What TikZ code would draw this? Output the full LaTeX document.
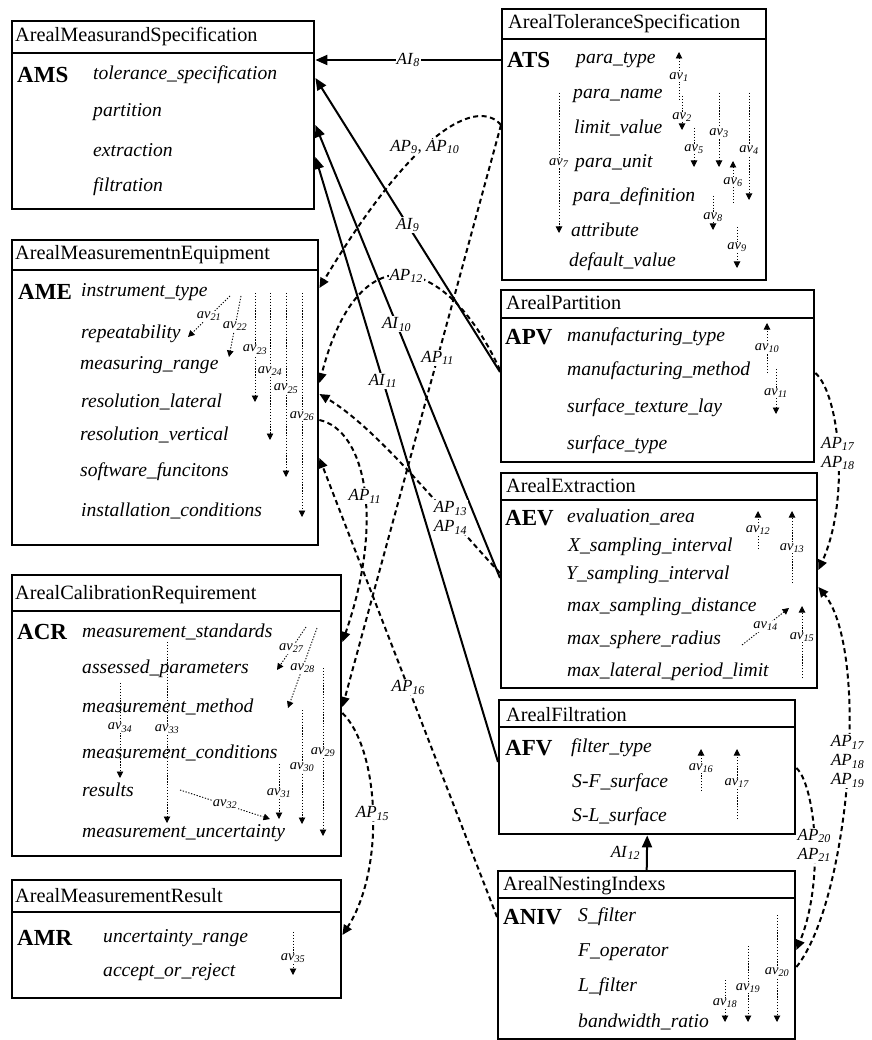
\documentclass[tikz,border=0pt]{standalone}
\usepackage{fontspec}
\setmainfont{Liberation Serif}
\usepackage{tikz}
\usetikzlibrary{arrows.meta,calc}

\newcommand{\avl}[1]{\textit{av}\textsubscript{\textit{#1}}}
\newcommand{\apl}[1]{\textit{AP}\textsubscript{\textit{#1}}}
\newcommand{\ail}[1]{\textit{AI}\textsubscript{\textit{#1}}}

\begin{document}
\begin{tikzpicture}[x=1pt, y=-1pt,
  box/.style={draw, line width=2.4pt, anchor=north west, inner sep=0pt},
  sep/.style={line width=2.4pt},
  ttl/.style={anchor=west, inner sep=0pt, font=\fontsize{20.3}{23}\selectfont},
  key/.style={anchor=west, inner sep=0pt, font=\fontsize{23}{26}\selectfont\bfseries},
  attr/.style={anchor=west, inner sep=0pt, font=\fontsize{19.6}{22}\selectfont\itshape},
  av/.style={line width=0.9pt, dash pattern=on 1.3pt off 1.6pt, -{Triangle[length=6.5pt,width=6.5pt]}},
  avlab/.style={fill=white, inner sep=0.6pt, font=\fontsize{14.5}{16}\selectfont},
  ai/.style={line width=2pt, -{Triangle[length=12pt,width=10pt]}},
  ap/.style={line width=2pt, dash pattern=on 5pt off 3.5pt, -{Triangle[length=10pt,width=9pt]}},
  lab/.style={fill=white, inner sep=1pt, align=center, font=\fontsize{17}{19}\selectfont}]
  \useasboundingbox (0,0) rectangle (871,1040);

  % classes
  \node[box, minimum width=302pt, minimum height=188pt] (ams) at (11,20) {};
  \draw[sep] ($(ams.north west)+(0,33)$) -- ($(ams.north east)+(0,33)$);
  \node[ttl] (ams-t) at (15,37) {ArealMeasurandSpecification};
  \node[key] (ams-k) at (17,75) {AMS};
  \node[attr] (ams1) at (93,75) {tolerance\_specification};
  \node[attr] (ams2) at (93,112) {partition};
  \node[attr] (ams3) at (93,150) {extraction};
  \node[attr] (ams4) at (93,187) {filtration};

  \node[box, minimum width=264pt, minimum height=271pt] (ats) at (501,8) {};
  \draw[sep] ($(ats.north west)+(0,31)$) -- ($(ats.north east)+(0,31)$);
  \node[ttl] (ats-t) at (508,24) {ArealToleranceSpecification};
  \node[key] (ats-k) at (507,60) {ATS};
  \node[attr] (ats1) at (576,60) {para\_type};
  \node[attr] (ats2) at (573,96) {para\_name};
  \node[attr] (ats3) at (574,128) {limit\_value};
  \node[attr] (ats4) at (575,163) {para\_unit};
  \node[attr] (ats5) at (573,197) {para\_definition};
  \node[attr] (ats6) at (571,230) {attribute};
  \node[attr] (ats7) at (569,262) {default\_value};

  \node[box, minimum width=306pt, minimum height=305pt] (ame) at (11,239) {};
  \draw[sep] ($(ame.north west)+(0,31)$) -- ($(ame.north east)+(0,31)$);
  \node[ttl] (ame-t) at (15,255) {ArealMeasurementnEquipment};
  \node[key] (ame-k) at (18,292) {AME};
  \node[attr] (ame1) at (81,292) {instrument\_type};
  \node[attr] (ame2) at (81,334) {repeatability};
  \node[attr] (ame3) at (80,365) {measuring\_range};
  \node[attr] (ame4) at (81,402) {resolution\_lateral};
  \node[attr] (ame5) at (80,435) {resolution\_vertical};
  \node[attr] (ame6) at (80,472) {software\_funcitons};
  \node[attr] (ame7) at (81,511) {installation\_conditions};

  \node[box, minimum width=313pt, minimum height=172pt] (apv) at (500,289) {};
  \draw[sep] ($(apv.north west)+(0,29)$) -- ($(apv.north east)+(0,29)$);
  \node[ttl] (apv-t) at (506,303) {ArealPartition};
  \node[key] (apv-k) at (505,337) {APV};
  \node[attr] (apv1) at (567,337) {manufacturing\_type};
  \node[attr] (apv2) at (567,371) {manufacturing\_method};
  \node[attr] (apv3) at (567,408) {surface\_texture\_lay};
  \node[attr] (apv4) at (567,445) {surface\_type};

  \node[box, minimum width=316pt, minimum height=215pt] (aev) at (500,472) {};
  \draw[sep] ($(aev.north west)+(0,28)$) -- ($(aev.north east)+(0,28)$);
  \node[ttl] (aev-t) at (506,486) {ArealExtraction};
  \node[key] (aev-k) at (505,518) {AEV};
  \node[attr] (aev1) at (567,517) {evaluation\_area};
  \node[attr] (aev2) at (568,547) {X\_sampling\_interval};
  \node[attr] (aev3) at (566,575) {Y\_sampling\_interval};
  \node[attr] (aev4) at (567,607) {max\_sampling\_distance};
  \node[attr] (aev5) at (567,640) {max\_sphere\_radius};
  \node[attr] (aev6) at (567,672) {max\_lateral\_period\_limit};

  \node[box, minimum width=329pt, minimum height=281pt] (acr) at (11,574) {};
  \draw[sep] ($(acr.north west)+(0,37)$) -- ($(acr.north east)+(0,37)$);
  \node[ttl] (acr-t) at (15,595) {ArealCalibrationRequirement};
  \node[key] (acr-k) at (17,632) {ACR};
  \node[attr] (acr1) at (82,632) {measurement\_standards};
  \node[attr] (acr2) at (82,669) {assessed\_parameters};
  \node[attr] (acr3) at (82,707) {measurement\_method};
  \node[attr] (acr4) at (82,753) {measurement\_conditions};
  \node[attr] (acr5) at (82,790) {results};
  \node[attr] (acr6) at (82,833) {measurement\_uncertainty};

  \node[box, minimum width=296pt, minimum height=134pt] (afv) at (498,699) {};
  \draw[sep] ($(afv.north west)+(0,28)$) -- ($(afv.north east)+(0,28)$);
  \node[ttl] (afv-t) at (506,715) {ArealFiltration};
  \node[key] (afv-k) at (505,748) {AFV};
  \node[attr] (afv1) at (571,748) {filter\_type};
  \node[attr] (afv2) at (572,783) {S-F\_surface};
  \node[attr] (afv3) at (572,817) {S-L\_surface};

  \node[box, minimum width=297pt, minimum height=168pt] (aniv) at (497,870) {};
  \draw[sep] ($(aniv.north west)+(0,28)$) -- ($(aniv.north east)+(0,28)$);
  \node[ttl] (aniv-t) at (503,886) {ArealNestingIndexs};
  \node[key] (aniv-k) at (503,917) {ANIV};
  \node[attr] (aniv1) at (578,917) {S\_filter};
  \node[attr] (aniv2) at (578,952) {F\_operator};
  \node[attr] (aniv3) at (578,987) {L\_filter};
  \node[attr] (aniv4) at (578,1022) {bandwidth\_ratio};

  \node[box, minimum width=329pt, minimum height=118pt] (amr) at (11,879) {};
  \draw[sep] ($(amr.north west)+(0,33)$) -- ($(amr.north east)+(0,33)$);
  \node[ttl] (amr-t) at (15,896) {ArealMeasurementResult};
  \node[key] (amr-k) at (17,938) {AMR};
  \node[attr] (amr1) at (103,938) {uncertainty\_range};
  \node[attr] (amr2) at (103,972) {accept\_or\_reject};

  % attribute links
  \coordinate (av1a) at (679,100); \coordinate (av1b) at (679,52);
  \draw[av] (av1a) -- node[avlab, pos=0.48]{\avl{1}} (av1b);
  \coordinate (av2a) at (682,96); \coordinate (av2b) at (682,130);
  \draw[av] (av2a) -- node[avlab, pos=0.62]{\avl{2}} (av2b);
  \coordinate (av3a) at (719,93); \coordinate (av3b) at (719,167);
  \draw[av] (av3a) -- node[avlab, pos=0.54]{\avl{3}} (av3b);
  \coordinate (av4a) at (749,93); \coordinate (av4b) at (749,200);
  \draw[av] (av4a) -- node[avlab, pos=0.53]{\avl{4}} (av4b);
  \coordinate (av5a) at (694,128); \coordinate (av5b) at (694,167);
  \draw[av] (av5a) -- node[avlab, pos=0.54]{\avl{5}} (av5b);
  \coordinate (av6a) at (733,203); \coordinate (av6b) at (733,161);
  \draw[av] (av6a) -- node[avlab, pos=0.5]{\avl{6}} (av6b);
  \coordinate (av7a) at (559,93); \coordinate (av7b) at (559,233);
  \draw[av] (av7a) -- node[avlab, pos=0.5]{\avl{7}} (av7b);
  \coordinate (av8a) at (713,196); \coordinate (av8b) at (713,230);
  \draw[av] (av8a) -- node[avlab, pos=0.62]{\avl{8}} (av8b);
  \coordinate (av9a) at (737,227); \coordinate (av9b) at (737,268);
  \draw[av] (av9a) -- node[avlab, pos=0.5]{\avl{9}} (av9b);
  \coordinate (av10a) at (767,373); \coordinate (av10b) at (767,323);
  \draw[av] (av10a) -- node[avlab, pos=0.5]{\avl{10}} (av10b);
  \coordinate (av11a) at (776,369); \coordinate (av11b) at (776,414);
  \draw[av] (av11a) -- node[avlab, pos=0.53]{\avl{11}} (av11b);
  \coordinate (av12a) at (758,549); \coordinate (av12b) at (758,511);
  \draw[av] (av12a) -- node[avlab, pos=0.5]{\avl{12}} (av12b);
  \coordinate (av13a) at (792,583); \coordinate (av13b) at (792,511);
  \draw[av] (av13a) -- node[avlab, pos=0.49]{\avl{13}} (av13b);
  \coordinate (av14a) at (742,645); \coordinate (av14b) at (789,608);
  \draw[av] (av14a) -- node[avlab, pos=0.5]{\avl{14}} (av14b);
  \coordinate (av15a) at (802,678); \coordinate (av15b) at (802,606);
  \draw[av] (av15a) -- node[avlab, pos=0.57]{\avl{15}} (av15b);
  \coordinate (av16a) at (701,791); \coordinate (av16b) at (701,749);
  \draw[av] (av16a) -- node[avlab, pos=0.55]{\avl{16}} (av16b);
  \coordinate (av17a) at (737,819); \coordinate (av17b) at (737,749);
  \draw[av] (av17a) -- node[avlab, pos=0.51]{\avl{17}} (av17b);
  \coordinate (av18a) at (725,980); \coordinate (av18b) at (725,1022);
  \draw[av] (av18a) -- node[avlab, pos=0.55]{\avl{18}} (av18b);
  \coordinate (av19a) at (748,946); \coordinate (av19b) at (748,1022);
  \draw[av] (av19a) -- node[avlab, pos=0.55]{\avl{19}} (av19b);
  \coordinate (av20a) at (777,915); \coordinate (av20b) at (777,1022);
  \draw[av] (av20a) -- node[avlab, pos=0.53]{\avl{20}} (av20b);
  \coordinate (av21a) at (230,296); \coordinate (av21b) at (188,337);
  \draw[av] (av21a) -- node[avlab, pos=0.5]{\avl{21}} (av21b);
  \coordinate (av22a) at (241,296); \coordinate (av22b) at (229,357);
  \draw[av] (av22a) -- node[avlab, pos=0.5]{\avl{22}} (av22b);
  \coordinate (av23a) at (255,293); \coordinate (av23b) at (255,402);
  \draw[av] (av23a) -- node[avlab, pos=0.52]{\avl{23}} (av23b);
  \coordinate (av24a) at (270,293); \coordinate (av24b) at (270,440);
  \draw[av] (av24a) -- node[avlab, pos=0.53]{\avl{24}} (av24b);
  \coordinate (av25a) at (286,293); \coordinate (av25b) at (286,477);
  \draw[av] (av25a) -- node[avlab, pos=0.52]{\avl{25}} (av25b);
  \coordinate (av26a) at (302,293); \coordinate (av26b) at (302,517);
  \draw[av] (av26a) -- node[avlab, pos=0.55]{\avl{26}} (av26b);
  \coordinate (av27a) at (306,627); \coordinate (av27b) at (277,670);
  \draw[av] (av27a) -- node[avlab, pos=0.5]{\avl{27}} (av27b);
  \coordinate (av28a) at (317,628); \coordinate (av28b) at (288,708);
  \draw[av] (av28a) -- node[avlab, pos=0.5]{\avl{28}} (av28b);
  \coordinate (av29a) at (323,668); \coordinate (av29b) at (323,836);
  \draw[av] (av29a) -- node[avlab, pos=0.5]{\avl{29}} (av29b);
  \coordinate (av30a) at (302,710); \coordinate (av30b) at (302,824);
  \draw[av] (av30a) -- node[avlab, pos=0.5]{\avl{30}} (av30b);
  \coordinate (av31a) at (279,764); \coordinate (av31b) at (279,819);
  \draw[av] (av31a) -- node[avlab, pos=0.53]{\avl{31}} (av31b);
  \coordinate (av32a) at (180,790); \coordinate (av32b) at (270,819);
  \draw[av] (av32a) -- node[avlab, pos=0.5]{\avl{32}} (av32b);
  \coordinate (av33a) at (167,642); \coordinate (av33b) at (167,823);
  \draw[av] (av33a) -- node[avlab, pos=0.48]{\avl{33}} (av33b);
  \coordinate (av34a) at (120,683); \coordinate (av34b) at (120,778);
  \draw[av] (av34a) -- node[avlab, pos=0.47]{\avl{34}} (av34b);
  \coordinate (av35a) at (293,932); \coordinate (av35b) at (293,975);
  \draw[av] (av35a) -- node[avlab, pos=0.6]{\avl{35}} (av35b);

  % class links
  \draw[ai] ($(ats.north west)+(0,52)$) -- node[lab]{\ail{8}} ($(ams.north east)+(0,40)$);
  \draw[ai] ($(apv.north west)+(0,83)$) -- node[lab]{\ail{9}} ($(ams.north east)+(0,58)$);
  \draw[ai] ($(aev.north west)+(0,106)$) -- node[lab, pos=0.56]{\ail{10}} ($(ams.north east)+(0,105)$);
  \draw[ai] ($(afv.north west)+(0,63)$) -- node[lab, pos=0.63]{\ail{11}} ($(ams.north east)+(0,137)$);
  \draw[ai] (aniv.north) -- node[lab, left=5pt, fill=none]{\ail{12}} (afv.south);

  \draw[ap] ($(ats.north west)+(0,117)$) .. controls (480,100) and (420,120) .. node[lab, pos=0.58]{\apl{9}, \apl{10}} ($(ame.north east)+(0,49)$);
  \draw[ap] ($(ats.north west)+(0,117)$) -- node[lab, pos=0.4]{\apl{11}} ($(acr.north east)+(0,133)$);
  \draw[ap] ($(apv.north west)+(0,81)$) .. controls (450,260) and (360,225) .. node[lab]{\apl{12}} ($(ame.north east)+(0,144)$);
  \draw[ap] ($(aev.north west)+(0,101)$) .. controls (450,520) and (380,430) .. node[lab, pos=0.3]{\apl{13}\\\apl{14}} ($(ame.north east)+(0,155)$);
  \draw[ap] ($(ame.north east)+(0,181)$) .. controls (365,430) and (385,520) .. node[lab, pos=0.53]{\apl{11}} ($(acr.north east)+(0,68)$);
  \draw[ap] ($(aniv.north west)+(0,47)$) -- node[lab]{\apl{16}} ($(ame.north east)+(0,219)$);
  \draw[ap] ($(acr.north east)+(0,139)$) .. controls (380,750) and (385,870) .. node[lab]{\apl{15}} ($(amr.north east)+(0,56)$);
  \draw[ap] ($(apv.north east)+(0,84)$) .. controls (840,395) and (850,500) .. node[lab]{\apl{17}\\\apl{18}} ($(aev.north east)+(0,98)$);
  \draw[ap] ($(aniv.north east)+(0,97)$) .. controls (850,900) and (870,650) .. node[lab, pos=0.53]{\apl{17}\\\apl{18}\\\apl{19}} ($(aev.north east)+(0,115)$);
  \draw[ap] ($(afv.north east)+(0,69)$) .. controls (815,785) and (825,880) .. node[lab, pos=0.53]{\apl{20}\\\apl{21}} ($(aniv.north east)+(0,80)$);
\end{tikzpicture}
\end{document}
